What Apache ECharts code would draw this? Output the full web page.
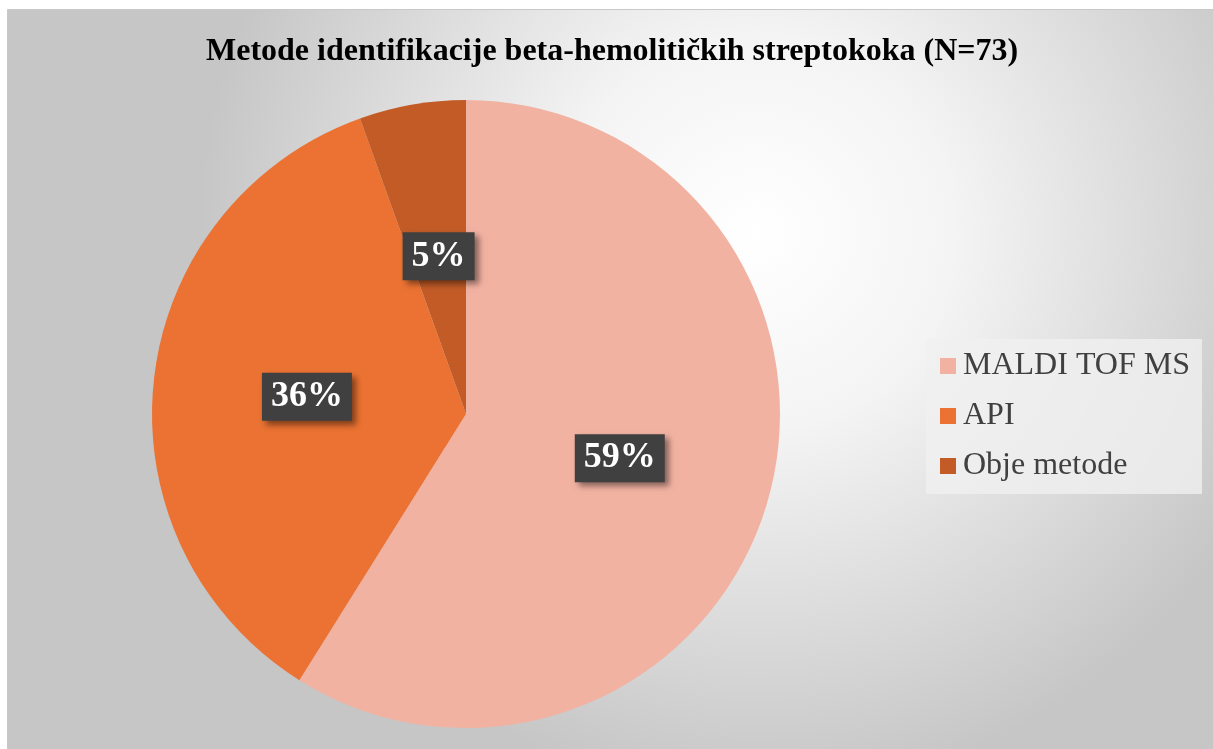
<!DOCTYPE html>
<html>
<head>
<meta charset="utf-8">
<script src="https://cdn.jsdelivr.net/npm/echarts@6/dist/echarts.min.js"></script>
<style>
  html, body { margin: 0; padding: 0; background: #fff; }
  #chart { width: 1213px; height: 749px; }
</style>
</head>
<body>
<div id="chart"></div>
<script>
// broj izolata po metodi (N=73)
var categories = ['MALDI TOF MS', 'API', 'Obje metode']
var counts = [43, 26, 4]
var colors = ['#F2B2A2', '#EB7232', '#C25B26']
var titleText = 'Metode identifikacije beta-hemolitičkih streptokoka (N=73)'

var myChart = echarts.init(document.getElementById('chart'))

var serif = '"Liberation Serif", "Times New Roman", serif'

var option = {
  animation: false,
  color: colors,
  graphic: [
    {
      type: 'rect',
      z: -10,
      shape: { x: 7.5, y: 9.5, width: 1210, height: 745 },
      style: {
        fill: new echarts.graphic.RadialGradient(0.62, 0.3, 0.75, [
          { offset: 0, color: '#FFFFFF' },
          { offset: 0.35, color: '#F4F4F4' },
          { offset: 1, color: '#C6C6C6' }
        ]),
        stroke: '#C8C8C8',
        lineWidth: 1
      }
    }
  ],
  title: {
    text: titleText,
    left: 201,
    top: 31,
    textStyle: {
      fontFamily: serif,
      fontWeight: 'bold',
      fontSize: 32,
      color: '#000'
    }
  },
  legend: {
    orient: 'vertical',
    left: 926,
    top: 339,
    padding: [11, 12, 12, 14],
    itemWidth: 16,
    itemHeight: 16,
    itemGap: 18,
    icon: 'rect',
    backgroundColor: 'rgba(240,240,240,0.8)',
    textStyle: {
      fontFamily: serif,
      fontSize: 32,
      color: '#404040',
      padding: [0, 0, 0, 2]
    },
    data: categories
  },
  series: [
    {
      type: 'pie',
      center: [466, 414],
      radius: 314,
      startAngle: 90,
      clockwise: true,
      avoidLabelOverlap: false,
      itemStyle: { borderWidth: 0 },
      label: {
        show: true,
        position: 'inside',
        formatter: function (p) { return Math.round(p.percent) + '%' },
        fontFamily: serif,
        fontWeight: 'bold',
        fontSize: 36,
        color: '#fff',
        backgroundColor: '#404040',
        padding: [7, 9, 5, 9],
        shadowColor: 'rgba(0,0,0,0.45)',
        shadowBlur: 6,
        shadowOffsetX: 4,
        shadowOffsetY: 4
      },
      labelLine: { show: false },
      emphasis: { disabled: true },
      data: categories.map(function (name, i) {
        return { name: name, value: counts[i] }
      })
    }
  ]
}

myChart.setOption(option)
</script>
</body>
</html>
